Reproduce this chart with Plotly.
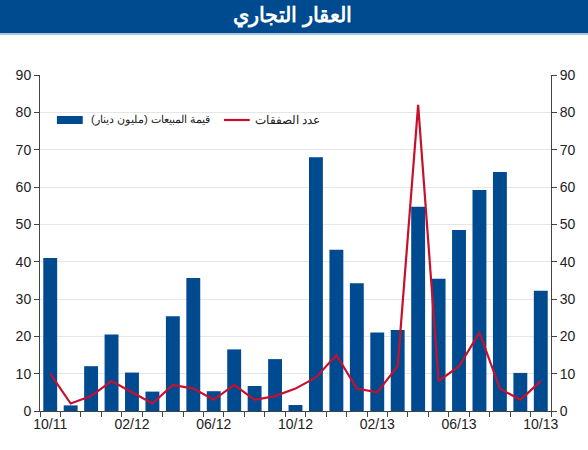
import plotly.graph_objects as go

months = ["10/11","11/11","12/11","01/12","02/12","03/12","04/12","05/12","06/12","07/12","08/12","09/12",
          "10/12","11/12","12/12","01/13","02/13","03/13","04/13","05/13","06/13","07/13","08/13","09/13","10/13"]
sales_value = [41, 1.5, 12, 20.5, 10.3, 5.2, 25.4, 35.6, 5.3, 16.5, 6.7, 13.9,
               1.6, 68, 43.2, 34.2, 21, 21.7, 54.7, 35.4, 48.5, 59.2, 64, 10.2, 32.2]
deals = [10, 2, 4, 8, 5, 2, 7, 6, 3, 7, 3, 4,
         6, 9, 15, 6, 5, 12, 82, 8, 12, 21, 6, 3, 8]
tick_labels = ["10/11","02/12","06/12","10/12","02/13","06/13","10/13"]

title_text = "العقار التجاري"
bar_name = "قيمة المبيعات (مليون دينار)"
line_name = "عدد الصفقات"

x = list(range(len(months)))
tickvals = [months.index(t) for t in tick_labels]

BLUE = "#004a8f"
RED = "#c8102e"
FONT = "Liberation Sans, Arial, sans-serif"

fig = go.Figure()
fig.add_trace(go.Bar(x=x, y=sales_value, name=bar_name, marker=dict(color=BLUE, line=dict(width=0)), yaxis="y"))
fig.add_trace(go.Scatter(x=x, y=deals, name=line_name, mode="lines", line=dict(color=RED, width=2.2), yaxis="y2"))

L, R, T, B = 40, 34, 75, 39
W, H = 588, 450
pw, ph = W - L - R, H - T - B

def px(v):
    return (v - L) / pw

def py(v):
    return 1 - (v - T) / ph

axis_common = dict(range=[0, 90], dtick=10, tick0=0, showline=True, linecolor="#444", linewidth=1,
                   ticks="outside", ticklen=5, tickcolor="#444", tickfont=dict(size=14, color="#222", family=FONT),
                   zeroline=False)

legend_y = 120
fig.update_layout(
    width=W, height=H,
    margin=dict(l=L, r=R, t=T, b=B),
    paper_bgcolor="white", plot_bgcolor="white",
    bargap=0.32,
    showlegend=False,
    xaxis=dict(range=[-0.5, len(months) - 0.5], tickvals=tickvals, ticktext=tick_labels, ticks="outside", ticklen=0,
               showline=True, linecolor="#444", linewidth=1, showgrid=False, zeroline=False,
               tickfont=dict(size=14, color="#222", family=FONT),
               minor=dict(tick0=-0.5, dtick=1, ticks="outside", ticklen=5, tickcolor="#444", showgrid=False)),
    yaxis=dict(**axis_common, side="left", showgrid=True, gridcolor="#e6e6e6", gridwidth=1),
    yaxis2=dict(**axis_common, side="right", overlaying="y", showgrid=False),
    shapes=[
        dict(type="rect", xref="paper", yref="paper", x0=px(-5), x1=px(W + 5),
             y0=py(33), y1=py(-5), fillcolor=BLUE, line=dict(width=0), layer="above"),
        dict(type="line", xref="paper", yref="paper", x0=px(-5), x1=px(W + 5),
             y0=py(34), y1=py(34), line=dict(color="#8fb3d9", width=1.5)),
        # legend symbols
        dict(type="rect", xref="paper", yref="paper", x0=px(57), x1=px(83),
             y0=py(legend_y + 4), y1=py(legend_y - 4), fillcolor=BLUE, line=dict(width=0)),
        dict(type="line", xref="paper", yref="paper", x0=px(225), x1=px(251),
             y0=py(legend_y), y1=py(legend_y), line=dict(color=RED, width=2.2)),
    ],
    annotations=[
        dict(text="<b>" + title_text + "</b>", xref="paper", yref="paper", x=px(W / 2), y=py(16),
             showarrow=False, xanchor="center", yanchor="middle", font=dict(size=21, color="white", family=FONT)),
        dict(text=bar_name, xref="paper", yref="paper", x=px(151), y=py(legend_y),
             showarrow=False, xanchor="center", yanchor="middle", font=dict(size=11.3, color="#222", family=FONT)),
        dict(text=line_name, xref="paper", yref="paper", x=px(289), y=py(legend_y),
             showarrow=False, xanchor="center", yanchor="middle", font=dict(size=11.5, color="#222", family=FONT)),
    ],
)

fig.write_html("out.html")
